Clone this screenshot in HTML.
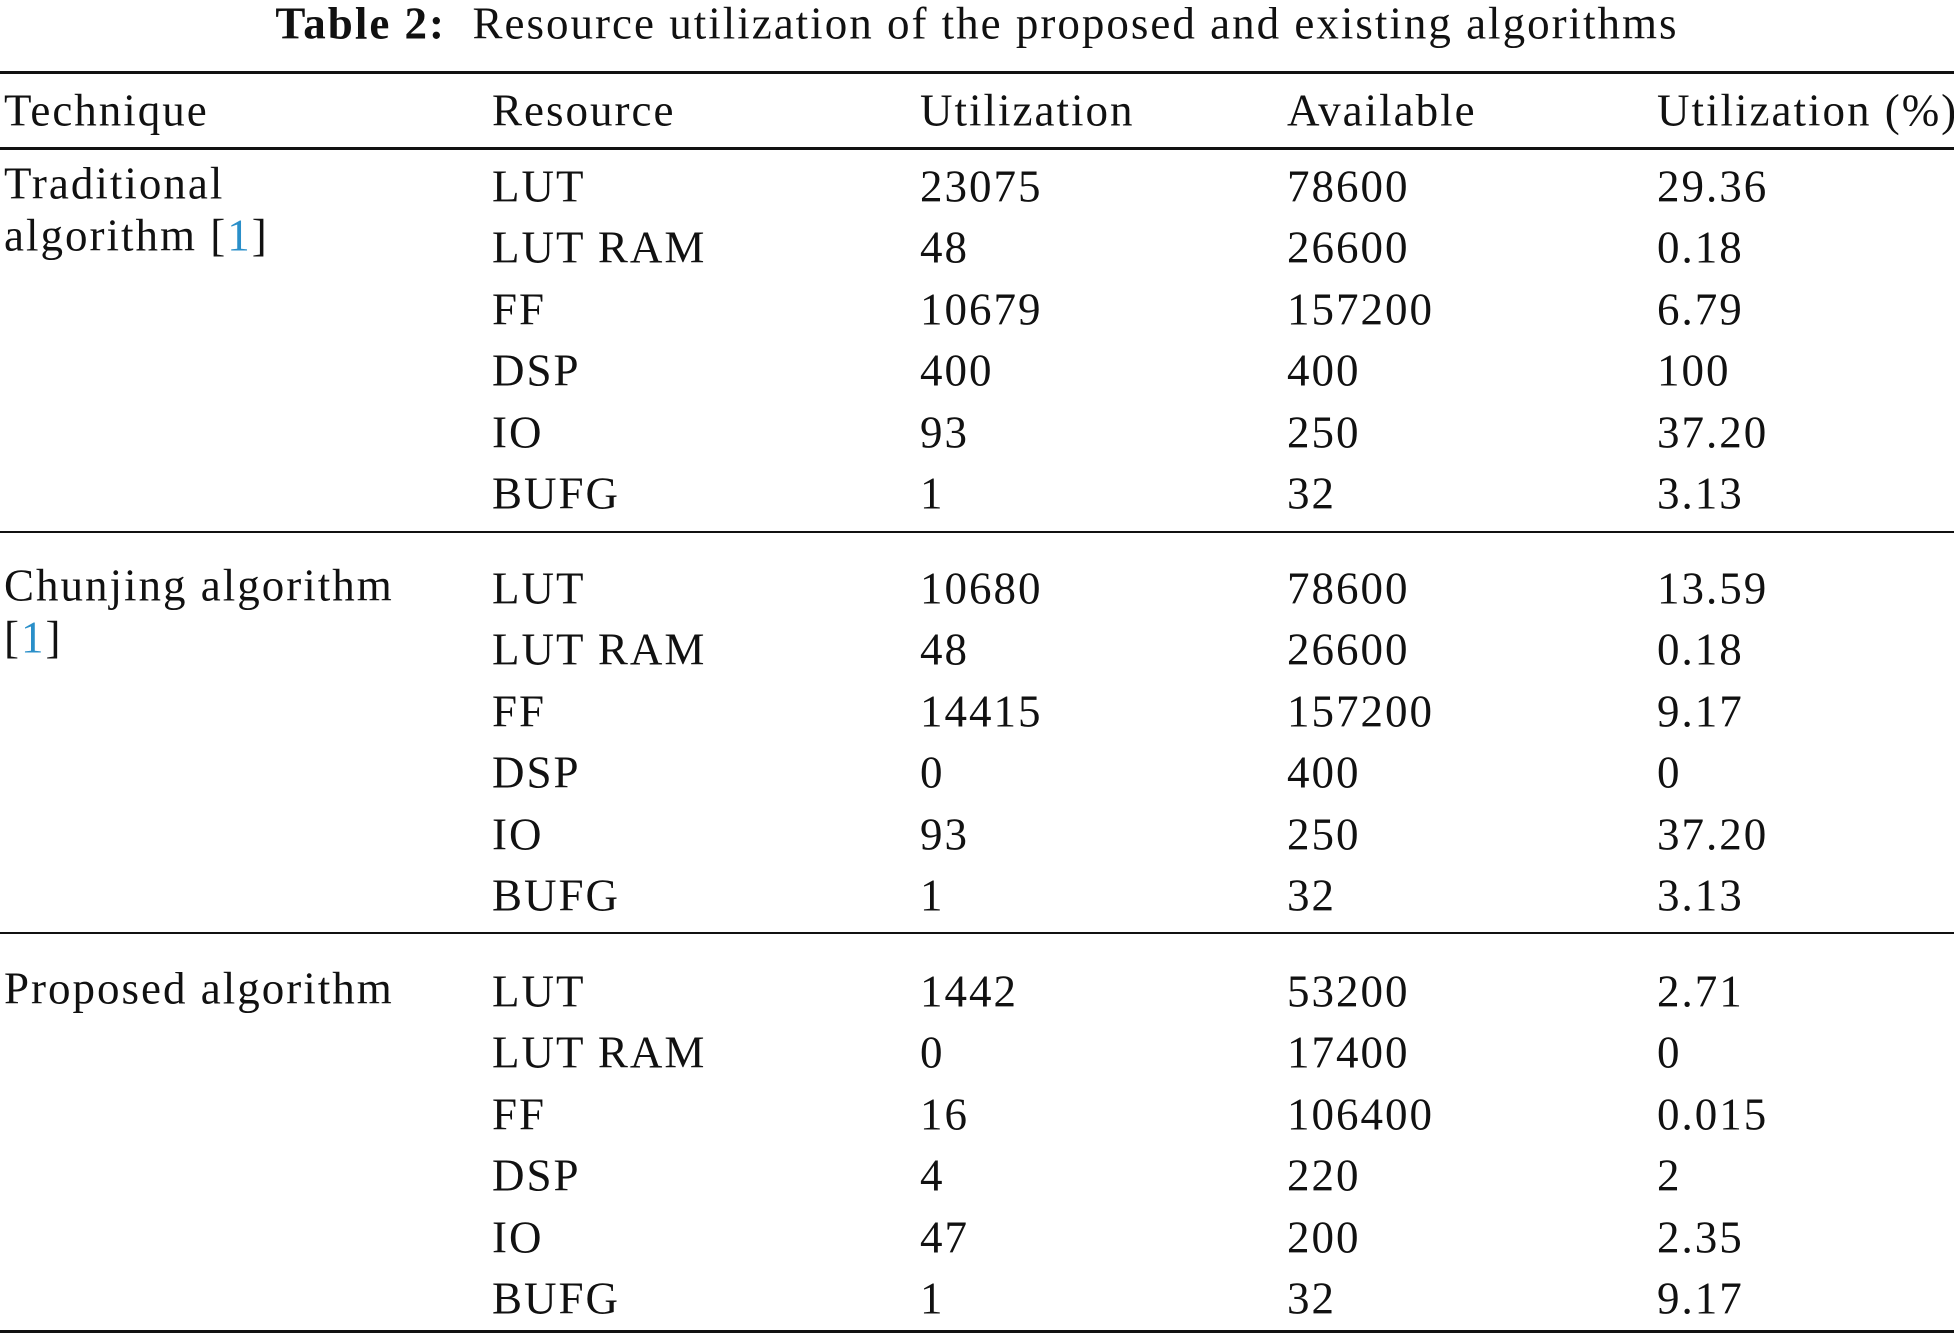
<!DOCTYPE html>
<html><head><meta charset="utf-8"><style>
body{margin:0;background:#fff;}
#t{position:relative;width:1954px;height:1337px;overflow:hidden;font-family:"Liberation Serif",serif;color:#111;font-size:45px;letter-spacing:2px;}
.c{position:absolute;white-space:nowrap;line-height:1;transform:translateY(-50%);}
.r{position:absolute;left:0;width:1954px;background:#111;}
a{color:#2a8fc9;text-decoration:none;}
</style></head><body>
<div id="t">
<div class="c" style="left:0;width:1954px;text-align:center;top:24px;"><b>Table 2:</b>&nbsp; Resource utilization of the proposed and existing algorithms</div>
<div class="r" style="top:71px;height:3px;"></div>
<div class="r" style="top:147px;height:3px;"></div>
<div class="r" style="top:531px;height:2px;"></div>
<div class="r" style="top:932px;height:2px;"></div>
<div class="r" style="top:1330px;height:3px;"></div>
<div id="body"></div>
</div>
<script>
const cols=[4,492,920,1287,1657];
const headers=["Technique","Resource","Utilization","Available","Utilization (%)"];
const groups=[
 {name:["Traditional","algorithm [<a>1</a>]"],top:187,rows:[["LUT","23075","78600","29.36"],["LUT RAM","48","26600","0.18"],["FF","10679","157200","6.79"],["DSP","400","400","100"],["IO","93","250","37.20"],["BUFG","1","32","3.13"]]},
 {name:["Chunjing algorithm","[<a>1</a>]"],top:589,rows:[["LUT","10680","78600","13.59"],["LUT RAM","48","26600","0.18"],["FF","14415","157200","9.17"],["DSP","0","400","0"],["IO","93","250","37.20"],["BUFG","1","32","3.13"]]},
 {name:["Proposed algorithm"],top:992,rows:[["LUT","1442","53200","2.71"],["LUT RAM","0","17400","0"],["FF","16","106400","0.015"],["DSP","4","220","2"],["IO","47","200","2.35"],["BUFG","1","32","9.17"]]}
];
const t=document.getElementById('t');
function cell(x,y,html,name){const d=document.createElement('div');d.className='c';d.style.left=x+'px';d.style.top=y+'px';d.innerHTML=html;


t.appendChild(d);}
headers.forEach((h,i)=>cell(cols[i],111,h,'header-'+i));
groups.forEach((g,gi)=>{
 g.name.forEach((n,li)=>cell(cols[0],g.top-3+li*52,n,'technique-'+gi));
 g.rows.forEach((r,ri)=>r.forEach((v,ci)=>cell(cols[ci+1],g.top+ri*61.4,v,'cell-'+gi+'-'+ri+'-'+ci)));
});
</script>
</body></html>
